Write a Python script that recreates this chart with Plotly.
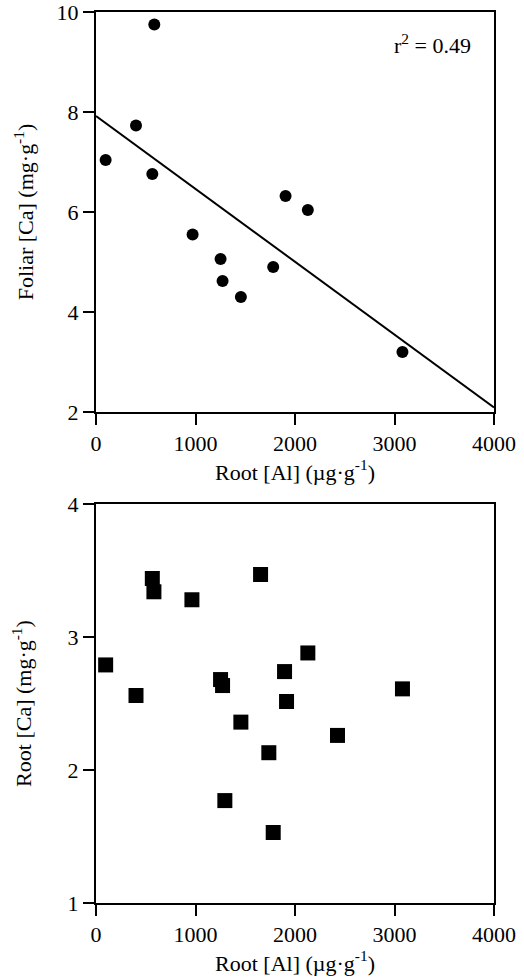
import plotly.graph_objects as go

# Top panel: Foliar Ca vs Root Al
top_al = [97, 402, 586, 566, 971, 1252, 1272, 1456, 1781, 1905, 2129, 3080]
top_ca = [7.04, 7.73, 9.75, 6.76, 5.55, 5.06, 4.62, 4.30, 4.90, 6.32, 6.04, 3.20]
fit_x = [0, 4000]
fit_y = [7.92, 2.09]
r2_label = "r<sup>2</sup> = 0.49"

# Bottom panel: Root Ca vs Root Al
bot_al = [97, 402, 566, 582, 964, 1654, 1252, 1272, 1295, 1456, 1737, 1781, 1895, 1915, 2129, 2427, 3080]
bot_ca = [2.79, 2.56, 3.44, 3.34, 3.28, 3.47, 2.68, 2.635, 1.77, 2.36, 2.13, 1.53, 2.74, 2.515, 2.88, 2.26, 2.61]

x_ticks = [0, 1000, 2000, 3000, 4000]
top_y_ticks = [2, 4, 6, 8, 10]
bot_y_ticks = [1, 2, 3, 4]

FONT = "Liberation Serif, Times New Roman, serif"
FS = 22

fig = go.Figure()
fig.add_trace(go.Scatter(x=fit_x, y=fit_y, mode="lines",
                         line=dict(color="black", width=2),
                         xaxis="x", yaxis="y", showlegend=False, hoverinfo="skip"))
fig.add_trace(go.Scatter(x=top_al, y=top_ca, mode="markers",
                         marker=dict(symbol="circle", size=12, color="black"),
                         xaxis="x", yaxis="y", showlegend=False))
fig.add_trace(go.Scatter(x=bot_al, y=bot_ca, mode="markers",
                         marker=dict(symbol="square", size=15, color="black"),
                         xaxis="x2", yaxis="y2", showlegend=False))

W, H = 524, 977
ml, mr, mt, mb = 96, 30, 12, 74
ph = H - mt - mb
top_dom = [(ph - 400) / ph, 1.0]
bot_dom = [0.0, 399 / ph]

axis_common = dict(showgrid=False, zeroline=False, showline=True, linecolor="black",
                   linewidth=2, mirror=True, ticks="outside", ticklen=11, tickwidth=2,
                   tickcolor="black", ticklabeloverflow="allow",
                   tickfont=dict(family=FONT, size=FS, color="black"))

fig.update_layout(
    width=W, height=H,
    margin=dict(l=ml, r=mr, t=mt, b=mb, autoexpand=False),
    paper_bgcolor="white", plot_bgcolor="white",
    font=dict(family=FONT, color="black", size=FS),
    xaxis=dict(axis_common, range=[0, 4000], tickvals=x_ticks, anchor="y", automargin=False,
               title=dict(text="Root [Al] (µg·g<sup>-1</sup>)", font=dict(family=FONT, size=FS), standoff=4)),
    yaxis=dict(axis_common, range=[2, 10], tickvals=top_y_ticks, domain=top_dom, anchor="x", automargin=False,
               title=dict(text="Foliar [Ca] (mg·g<sup>-1</sup>)", font=dict(family=FONT, size=FS), standoff=17)),
    xaxis2=dict(axis_common, range=[0, 4000], tickvals=x_ticks, anchor="y2", automargin=False,
                title=dict(text="Root [Al] (µg·g<sup>-1</sup>)", font=dict(family=FONT, size=FS), standoff=4)),
    yaxis2=dict(axis_common, range=[1, 4], tickvals=bot_y_ticks, domain=bot_dom, anchor="x2", automargin=False,
                title=dict(text="Root [Ca] (mg·g<sup>-1</sup>)", font=dict(family=FONT, size=FS), standoff=30)),
    annotations=[dict(x=3377, y=9.37, xref="x", yref="y", text=r2_label, showarrow=False,
                      font=dict(family=FONT, size=FS, color="black"))],
)

fig.write_html("out.html", config={"displayModeBar": False},
               post_script="document.body.style.margin='0px';document.body.style.overflow='hidden';")
